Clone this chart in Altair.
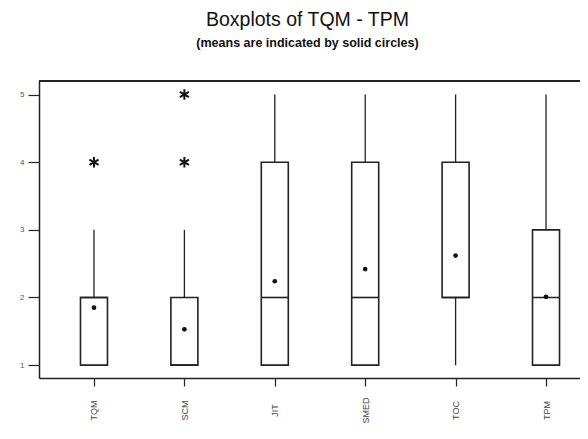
import altair as alt
import pandas as pd

categories = ["TQM", "SCM", "JIT", "SMED", "TOC", "TPM"]
q1 = [1, 1, 1, 1, 2, 1]
median = [2, 1, 2, 2, 2, 2]
q3 = [2, 2, 4, 4, 4, 3]
whisker_lo = [1, 1, 1, 1, 1, 1]
whisker_hi = [3, 3, 5, 5, 5, 5]
means = [1.85, 1.53, 2.24, 2.42, 2.62, 2.01]
outlier_cat = ["TQM", "SCM", "SCM"]
outlier_val = [4, 4, 5]

box = pd.DataFrame({
    "cat": categories, "q1": q1, "median": median, "q3": q3,
    "lo": whisker_lo, "hi": whisker_hi, "mean": means,
})
outl = pd.DataFrame({"cat": outlier_cat, "val": outlier_val})

FONT = "Liberation Sans"
INK = "#222222"
W, H = 541, 297

xscale = alt.Scale(type="point", domain=categories, padding=0.492, align=0.618)
yscale = alt.Scale(domain=[0.81, 5.2], nice=False, zero=False)

xenc = alt.X("cat:N", scale=xscale, sort=categories, title=None,
             axis=alt.Axis(labelAngle=270, labelAlign="center", labelBaseline="middle",
                           tickSize=8, labelPadding=24, labelFontSize=9, labelColor="#444",
                           labelFont=FONT, domainColor=INK, domainWidth=1.5,
                           tickColor=INK, tickWidth=1.2, labelFlush=False))
yaxis = alt.Axis(values=[1, 2, 3, 4, 5], tickSize=11, labelPadding=4, labelFontSize=8,
                 labelColor="#555", labelFont=FONT, domainColor=INK, domainWidth=1.5,
                 tickColor=INK, tickWidth=1.2, grid=False, format="d")

base = alt.Chart(box)

whisk = base.mark_rule(color=INK, strokeWidth=1.3).encode(
    x=xenc,
    y=alt.Y("lo:Q", scale=yscale, axis=yaxis, title=None),
    y2="hi:Q",
)
boxes = base.mark_bar(size=27, fill="white", stroke=INK, strokeWidth=1.6).encode(
    x=alt.X("cat:N", scale=xscale, sort=categories),
    y=alt.Y("q1:Q", scale=yscale),
    y2="q3:Q",
)
med = base.mark_tick(size=27, thickness=1.6, color=INK, opacity=1).encode(
    x=alt.X("cat:N", scale=xscale, sort=categories),
    y=alt.Y("median:Q", scale=yscale),
)
mean_pts = base.mark_circle(size=22, color="#111", opacity=1).encode(
    x=alt.X("cat:N", scale=xscale, sort=categories),
    y=alt.Y("mean:Q", scale=yscale),
)
asterisk = "M0,-1L0,1M-0.87,-0.5L0.87,0.5M-0.87,0.5L0.87,-0.5"
outs = alt.Chart(outl).mark_point(shape=asterisk, size=110, filled=False,
                                  stroke="#111", strokeWidth=2, opacity=1).encode(
    x=alt.X("cat:N", scale=xscale, sort=categories),
    y=alt.Y("val:Q", scale=yscale),
)
top_line = base.mark_rule(color=INK, strokeWidth=1.5).encode(
    x=alt.value(0), x2=alt.value(W), y=alt.value(0)
)

chart = alt.layer(whisk, boxes, med, mean_pts, outs, top_line).properties(
    width=W, height=H,
    autosize=alt.AutoSizeParams(type="none"),
    padding={"left": 31, "top": 73, "right": 0, "bottom": 50},
    background="white",
    title=alt.TitleParams(
        "Boxplots of TQM - TPM",
        subtitle="(means are indicated by solid circles)",
        anchor="middle", frame="group", dx=-2, offset=30,
        font=FONT, fontSize=19.5, fontWeight="normal", color="#111",
        subtitleFont=FONT, subtitleFontSize=12.5, subtitleColor="#111",
        subtitleFontWeight="bold", subtitlePadding=6,
    ),
).configure_view(stroke=None)

chart.save("out.html", embed_options={"renderer": "svg", "actions": False})
